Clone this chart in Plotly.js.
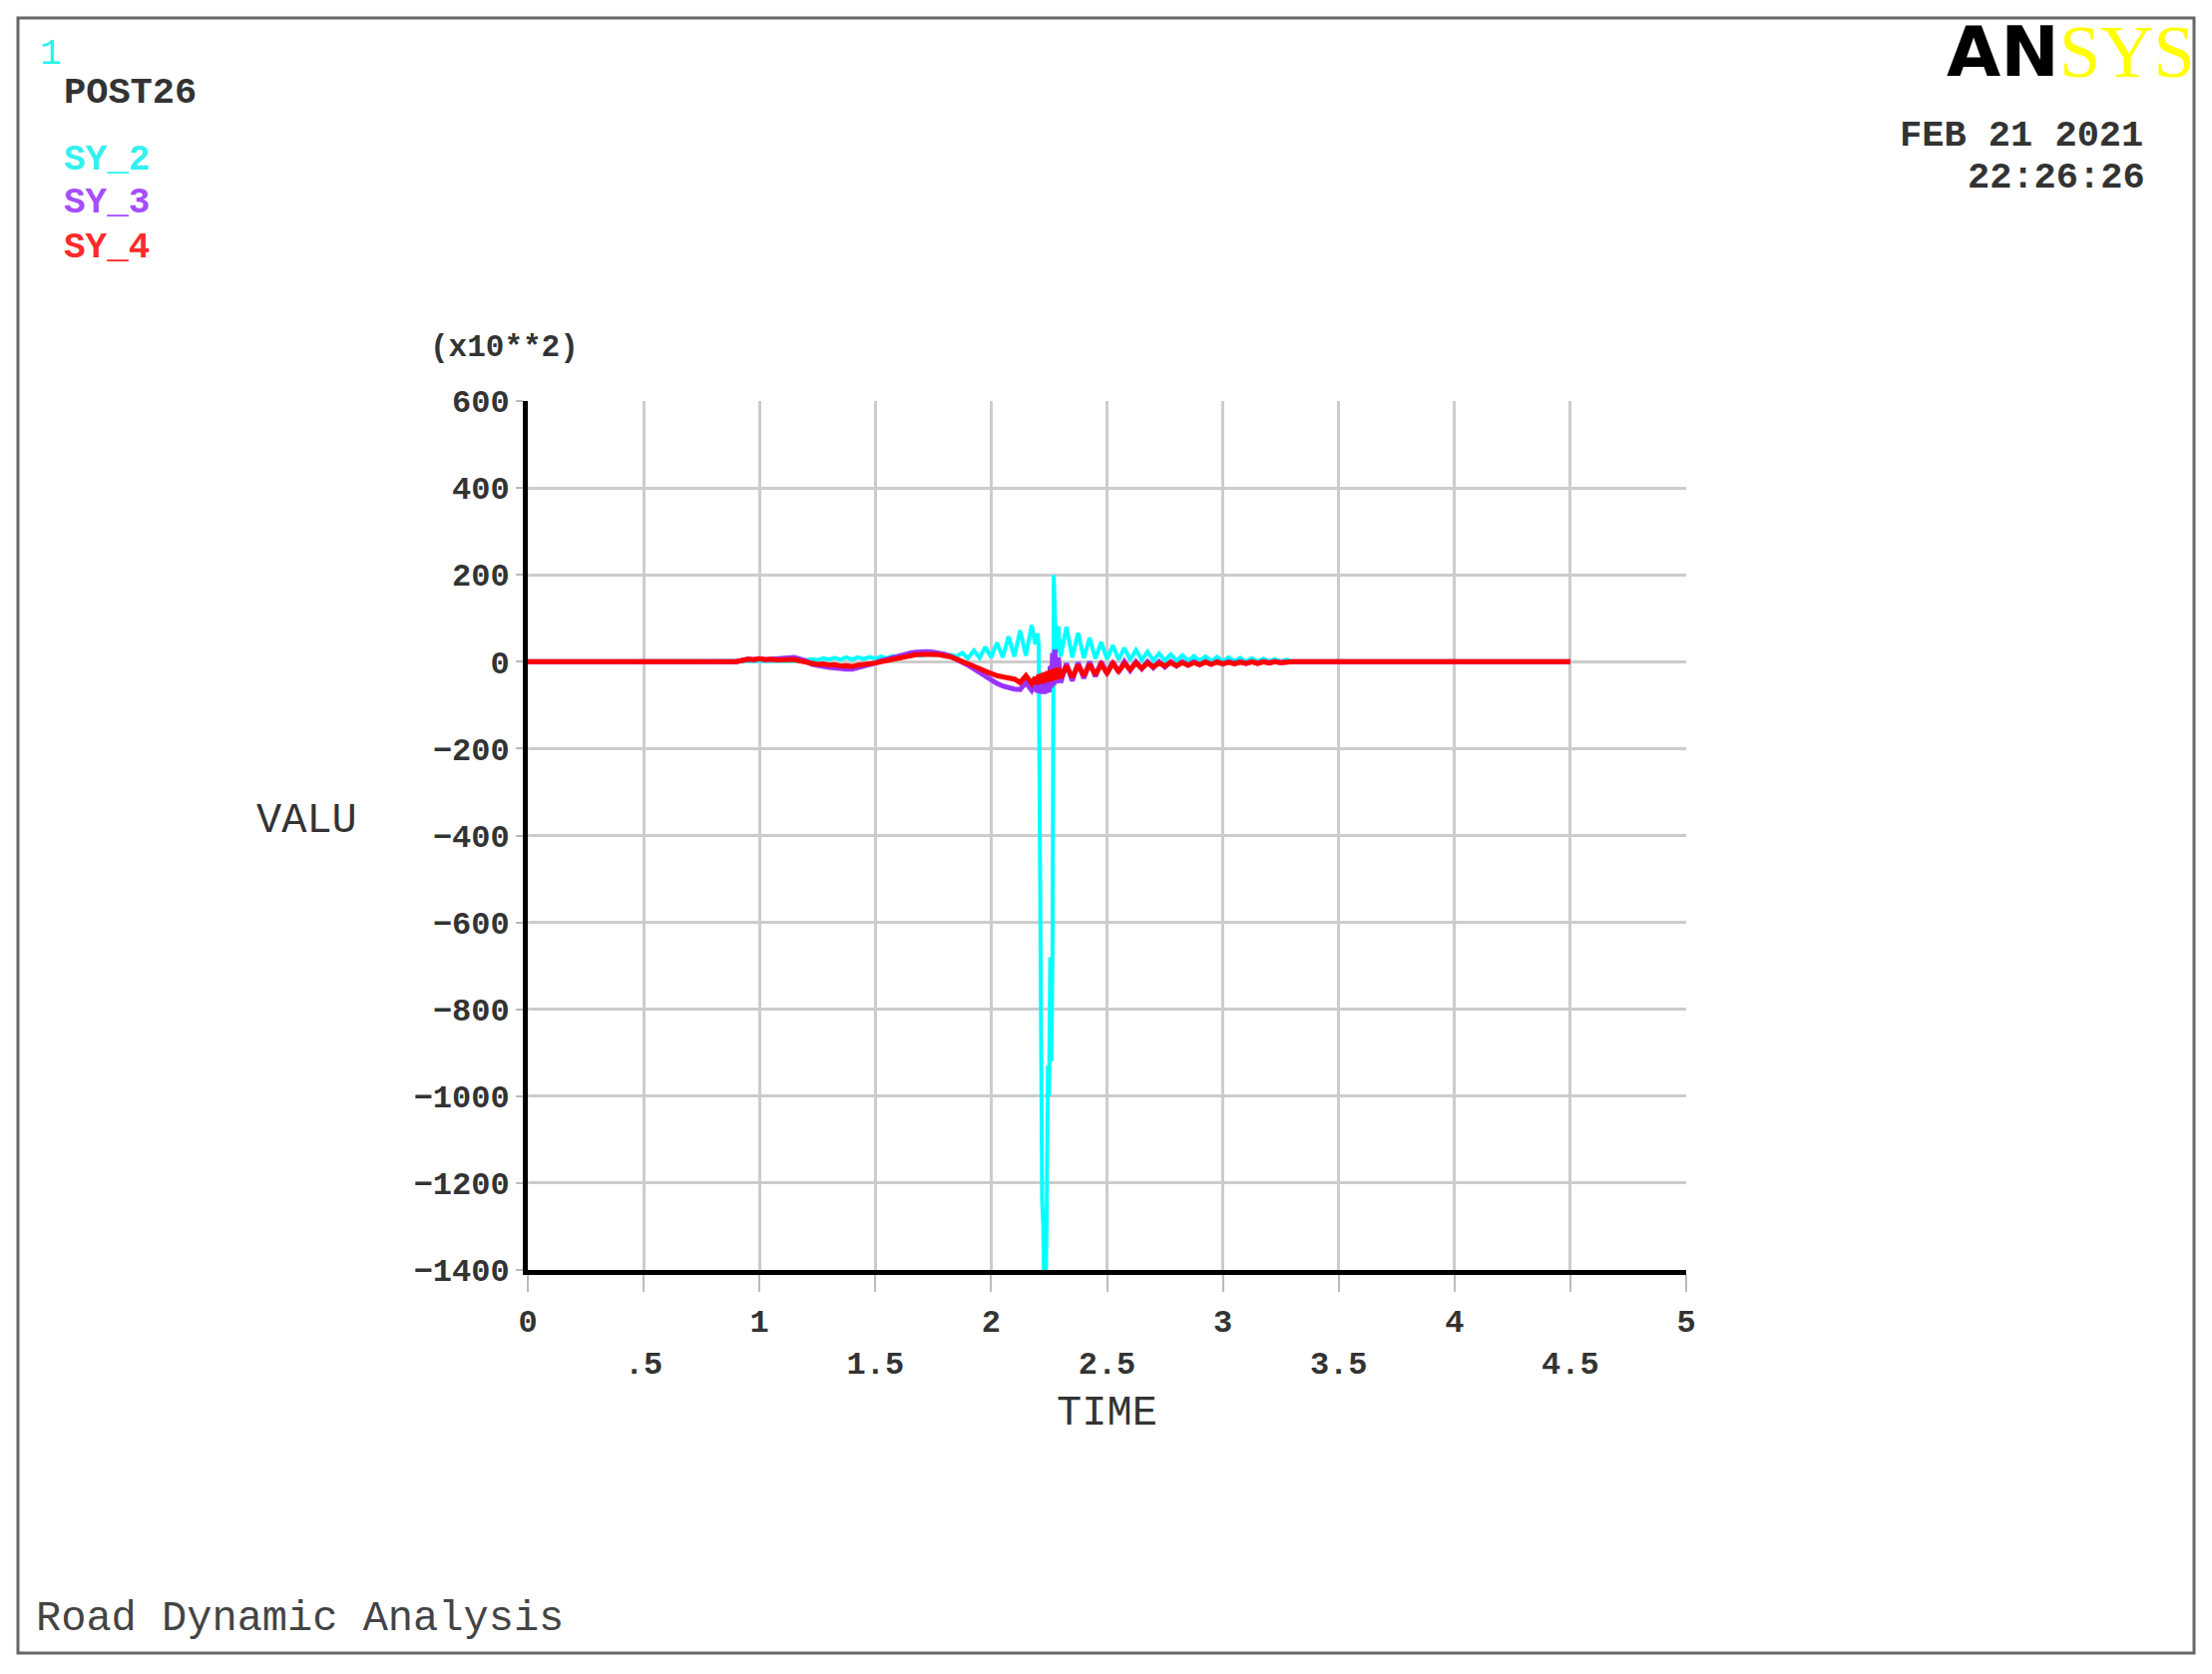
<!DOCTYPE html>
<html><head><meta charset="utf-8">
<script src="https://cdn.plot.ly/plotly-3.0.1.min.js"></script>
<style>html,body{margin:0;padding:0;background:#fff;}#chart{width:2217px;height:1678px;}</style>
</head><body><div id="chart"></div>
<script>
// ---- data (values in units of x10**2) ----
const time = [
  0, 0.9, 0.925, 0.95, 0.975, 1.0, 1.025, 1.05, 1.075, 1.1,
  1.125, 1.15, 1.175, 1.2, 1.225, 1.25, 1.275, 1.3, 1.325, 1.35,
  1.375, 1.4, 1.425, 1.45, 1.475, 1.5, 1.525, 1.55, 1.575, 1.6,
  1.625, 1.65, 1.675, 1.7, 1.725, 1.75, 1.775, 1.8, 1.825, 1.85,
  1.875, 1.9, 1.925, 1.95, 1.975, 2.0, 2.025, 2.05, 2.075, 2.1,
  2.125, 2.15, 2.175, 2.19, 2.2, 2.205, 2.21, 2.215, 2.22, 2.225,
  2.23, 2.235, 2.24, 2.245, 2.25, 2.255, 2.26, 2.265, 2.27, 2.275,
  2.28, 2.29, 2.3, 2.325, 2.35, 2.375, 2.4, 2.425, 2.45, 2.475,
  2.5, 2.525, 2.55, 2.575, 2.6, 2.625, 2.65, 2.675, 2.7, 2.725,
  2.75, 2.775, 2.8, 2.825, 2.85, 2.875, 2.9, 2.925, 2.95, 2.975,
  3.0, 3.025, 3.05, 3.075, 3.1, 3.125, 3.15, 3.175, 3.2, 3.225,
  3.25, 3.275, 3.3, 3.4, 3.5, 4.5
];
const sy2 = [
  0, 0, 0, 0, 0, 0, 0, 0, 0, 0,
  0, 1, 2, 3, 6, 4, 8, 5, 9, 5,
  10, 5, 10, 6, 11, 7, 12, 8, 13, 10,
  14, 12, 16, 14, 17, 15, 17, 14, 16, 12,
  20, 8, 26, 9, 34, 10, 44, 10, 58, 12,
  72, 14, 84, 40, 65, 40, -355, -940, -1240, -1300,
  -1520, -1480, -1250, -930, -1000, -680, -920, -670, 200, 60,
  20, 82, 12, 80, 10, 66, 8, 55, 7, 45,
  6, 38, 5, 32, 4, 27, 4, 23, 3, 19,
  3, 17, 2, 15, 2, 13, 2, 12, 1, 11,
  1, 10, 1, 9, 0, 8, 0, 7, 0, 6,
  0, 5, 0, 0, 0, 0
];
const sy3 = [
  0, 0, 3, 6, 5, 7, 5, 6, 6, 8,
  8, 10, 6, 2, -6, -9, -10, -13, -14, -16,
  -17, -17, -14, -10, -6, -3, 2, 6, 10, 14,
  17, 20, 22, 23, 23, 22, 20, 17, 12, 6,
  0, -8, -16, -25, -34, -42, -50, -56, -60, -63,
  -64, -48, -66, -50, -70, -46, -72, -44, -74, -40,
  -74, -36, -72, -30, -70, -10, -60, 20, -55, 28,
  -50, 10, -48, -4, -44, -2, -38, 0, -34, 0,
  -28, 0, -24, 0, -20, 0, -16, 0, -14, 0,
  -12, 0, -10, 0, -8, 0, -7, 0, -6, 0,
  -5, 0, -4, 0, -4, 0, -3, 0, -2, 0,
  -2, 0, 0, 0, 0, 0
];
const sy4 = [
  0, 0, 3, 6, 5, 7, 5, 6, 4, 5,
  4, 5, 2, 0, -4, -6, -5, -8, -7, -10,
  -9, -11, -8, -7, -4, -3, 0, 3, 6, 9,
  12, 14, 16, 17, 18, 17, 16, 14, 11, 6,
  1, -5, -10, -16, -22, -28, -32, -35, -38, -40,
  -48, -32, -50, -36, -52, -30, -48, -28, -50, -26,
  -48, -24, -46, -22, -45, -20, -44, -18, -42, -16,
  -40, -14, -38, -10, -36, -8, -32, -6, -30, -6,
  -26, -4, -22, -4, -18, -3, -15, -3, -12, -3,
  -10, -2, -9, -2, -8, -2, -7, -1, -6, -1,
  -5, -1, -5, -1, -4, 0, -4, 0, -3, 0,
  -2, 0, 0, 0, 0, 0
];
const seriesNames = ['SY_2', 'SY_3', 'SY_4'];
const seriesColors = ['#00ffff', '#9933ff', '#ff0000'];
const xTickVals = [0, 0.5, 1, 1.5, 2, 2.5, 3, 3.5, 4, 4.5, 5];
const xTickText = ['0', '<br>.5', '1', '<br>1.5', '2', '<br>2.5', '3', '<br>3.5', '4', '<br>4.5', '5'];
const yTickVals = [600, 400, 200, 0, -200, -400, -600, -800, -1000, -1200, -1400];

// ---- layout geometry (pixels) ----
const FIG_W = 2217, FIG_H = 1678;
const PL = 529, PR = 1690, PT = 402, PB = 1273;
const PW = PR - PL, PH = PB - PT;
const px = x => (x - PL) / PW;
const py = y => (PB - y) / PH;
const MONO = 'Liberation Mono, Courier New, monospace';

const seriesY = [sy2, sy3, sy4];
const widths = [4, 5, 5];
const traces = seriesNames.map((n, i) => ({
  type: 'scatter', mode: 'lines', name: n,
  x: time, y: seriesY[i],
  line: {color: seriesColors[i], width: widths[i]},
  hoverinfo: 'skip'
}));

function ann(text, x, y, xa, size, color, weight) {
  return {
    text: text, x: px(x), y: py(y), xref: 'paper', yref: 'paper',
    xanchor: xa, yanchor: 'middle', showarrow: false,
    font: {family: MONO, size: size, color: color, weight: weight || 'normal'}
  };
}

const annotations = [
  ann('1', 38, 54, 'left', 36, '#22f4f4'),
  ann('POST26', 62, 93, 'left', 37, '#333333', 'bold'),
  ann(seriesNames[0], 62, 160, 'left', 36, '#33f0f0', 'bold'),
  ann(seriesNames[1], 62, 204, 'left', 36, '#a64dff', 'bold'),
  ann(seriesNames[2], 62, 249, 'left', 36, '#ff2a2a', 'bold'),
  {text: 'AN', x: px(2066), y: py(52), xref: 'paper', yref: 'paper', xanchor: 'right', yanchor: 'middle', showarrow: false,
   font: {family: 'DejaVu Sans, Liberation Sans, sans-serif', size: 70, color: '#000', weight: 'bold'}},
  {text: 'SYS', x: px(2062), y: py(52), xref: 'paper', yref: 'paper', xanchor: 'left', yanchor: 'middle', showarrow: false,
   font: {family: 'Liberation Serif, Times New Roman, serif', size: 74, color: '#ffff00'}},
  ann('FEB 21 2021', 2150, 136, 'right', 37, '#333', 'bold'),
  ann('22:26:26', 2152, 178, 'right', 37, '#333', 'bold'),
  ann('(x10**2)', 505, 348, 'center', 31, '#333', 'bold'),
  ann('VALU', 307, 823, 'center', 42, '#333'),
  ann('Road Dynamic Analysis', 34, 1623, 'left', 42, '#444')
];

const layout = {
  width: FIG_W, height: FIG_H,
  margin: {l: PL, r: FIG_W - PR, t: PT, b: FIG_H - PB, pad: 0},
  paper_bgcolor: '#ffffff', plot_bgcolor: '#ffffff',
  showlegend: false,
  xaxis: {
    range: [0, 5], tickmode: 'array', tickvals: xTickVals, ticktext: xTickText,
    showgrid: true, gridcolor: '#cccccc', gridwidth: 3, zeroline: false,
    showline: true, linecolor: '#000', linewidth: 5,
    ticks: 'outside', ticklen: 17, tickwidth: 2, tickcolor: '#bbbbbb',
    ticklabelstandoff: 2,
    tickfont: {family: MONO, size: 32, color: '#333', weight: 'bold'},
    title: {text: 'TIME', font: {family: MONO, size: 42, color: '#333'}, standoff: 14}
  },
  yaxis: {
    range: [-1400, 600], tickmode: 'array', tickvals: yTickVals,
    showgrid: true, gridcolor: '#cccccc', gridwidth: 3, zeroline: false,
    showline: true, linecolor: '#000', linewidth: 5,
    ticks: 'outside', ticklen: 7, tickwidth: 2, tickcolor: '#bbbbbb',
    tickfont: {family: MONO, size: 32, color: '#333', weight: 'bold'}
  },
  annotations: annotations,
  shapes: [{
    type: 'rect', xref: 'paper', yref: 'paper',
    x0: px(18), x1: px(2199), y0: py(1657), y1: py(18),
    line: {color: '#666', width: 3}, fillcolor: 'rgba(0,0,0,0)', layer: 'below'
  }]
};

Plotly.newPlot('chart', traces, layout, {displayModeBar: false, staticPlot: true});
</script></body></html>
